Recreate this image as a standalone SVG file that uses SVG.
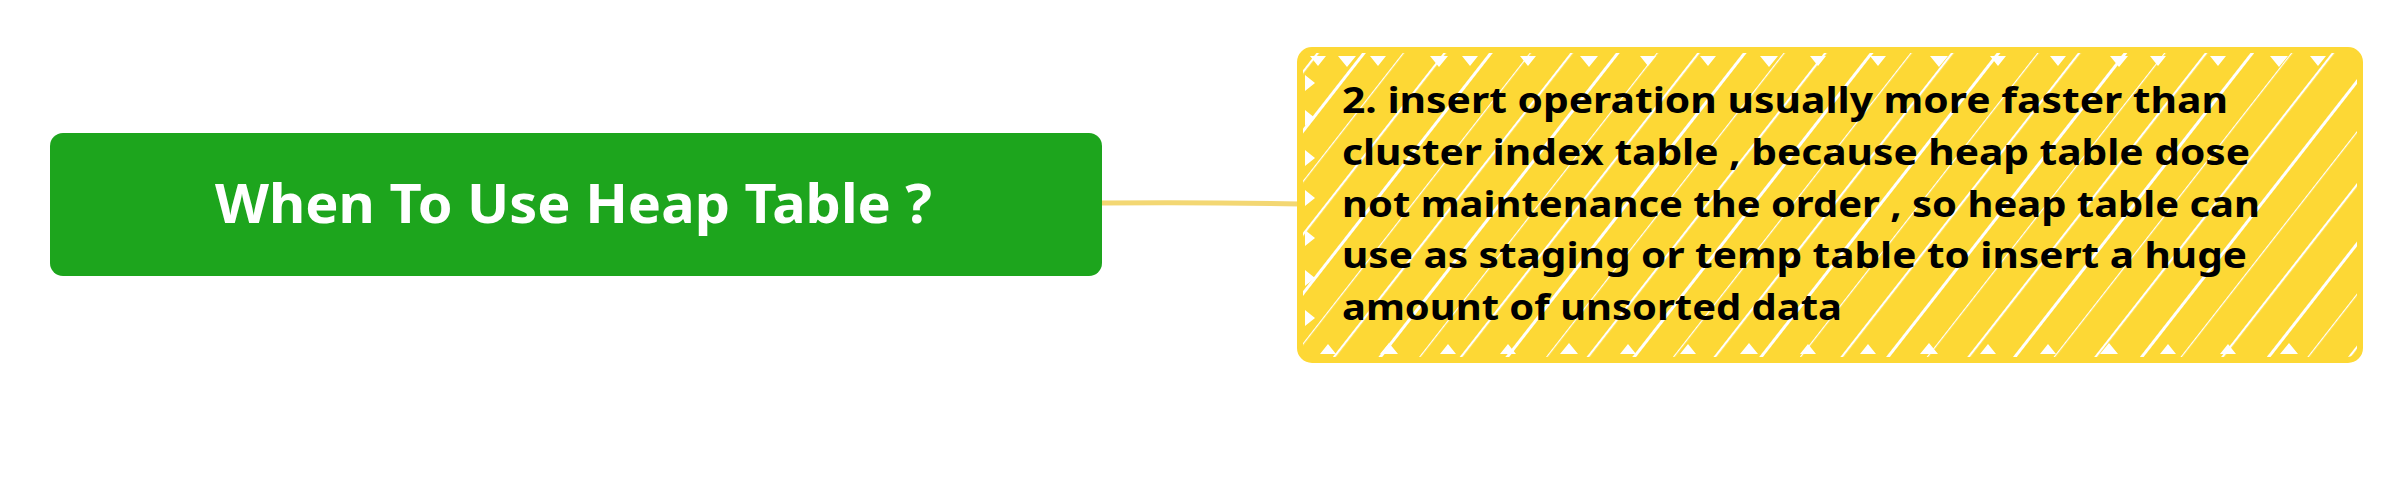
<svg xmlns="http://www.w3.org/2000/svg" width="2402" height="478" viewBox="0 0 2402 478">
  <style>
    .title { font-family: "Noto Sans", "Liberation Sans", sans-serif; font-weight: bold; font-size: 54px; fill: #ffffff; }
    .body { font-family: "Noto Sans", "Liberation Sans", sans-serif; font-weight: bold; font-size: 35px; fill: #000000; }
    .conn { fill: none; stroke: #f3d773; stroke-width: 5; stroke-linecap: round; }
    .notch { fill: #ffffff; }
  </style>
  <defs>
    <pattern id="hatch" patternUnits="userSpaceOnUse" width="100" height="100" patternTransform="rotate(38)">
      <rect x="0" y="0" width="100" height="100" fill="#fdd835"/>
      <rect x="6" y="0" width="3" height="100" fill="#ffffff"/>
      <rect x="38" y="0" width="1.2" height="100" fill="#ffffff"/>
      <rect x="70" y="0" width="2.2" height="100" fill="#ffffff"/>
    </pattern>
    <clipPath id="ybox">
      <rect x="1300" y="50" width="1060" height="310" rx="12"/>
    </clipPath>
  </defs>

  <g id="connectors">
    <path class="conn" d="M1102,203 Q1200,202 1300,204"/>
  </g>

  <g id="node-root">
    <rect x="50" y="133" width="1052" height="143" rx="13" fill="#1da51d"/>
    <text class="title" x="215" y="223" textLength="717" lengthAdjust="spacingAndGlyphs">When To Use Heap Table ?</text>
  </g>

  <g id="node-note">
    <g clip-path="url(#ybox)">
      <rect x="1300" y="50" width="1060" height="310" fill="url(#hatch)"/>
      <path class="notch" d="M1310,56 l8,10 l8,-10 z M1338,56 l9,11 l9,-11 z M1370,56 l8,10 l8,-10 z M1430,56 l9,11 l9,-11 z M1462,56 l8,10 l8,-10 z M1520,56 l8,10 l8,-10 z M1580,56 l9,11 l9,-11 z M1640,56 l8,10 l8,-10 z M1700,56 l8,10 l8,-10 z M1760,56 l9,11 l9,-11 z M1810,56 l8,10 l8,-10 z M1870,56 l8,10 l8,-10 z M1930,56 l9,11 l9,-11 z M1990,56 l8,10 l8,-10 z M2050,56 l8,10 l8,-10 z M2110,56 l9,11 l9,-11 z M2150,56 l8,10 l8,-10 z M2210,56 l8,10 l8,-10 z M2270,56 l9,11 l9,-11 z M2310,56 l8,10 l8,-10 z"/>
      <path class="notch" d="M1320,354 l8,-10 l8,10 z M1380,354 l9,-11 l9,11 z M1440,354 l8,-10 l8,10 z M1500,354 l8,-10 l8,10 z M1560,354 l9,-11 l9,11 z M1620,354 l8,-10 l8,10 z M1680,354 l8,-10 l8,10 z M1740,354 l9,-11 l9,11 z M1800,354 l8,-10 l8,10 z M1860,354 l8,-10 l8,10 z M1920,354 l9,-11 l9,11 z M1980,354 l8,-10 l8,10 z M2040,354 l8,-10 l8,10 z M2100,354 l9,-11 l9,11 z M2160,354 l8,-10 l8,10 z M2220,354 l8,-10 l8,10 z M2280,354 l9,-11 l9,11 z"/>
      <path class="notch" d="M1305,75 l10,8 l-10,8 z M1305,110 l10,8 l-10,8 z M1305,150 l10,8 l-10,8 z M1305,190 l10,8 l-10,8 z M1305,230 l10,8 l-10,8 z M1305,270 l10,8 l-10,8 z M1305,310 l10,8 l-10,8 z"/>
    </g>
    <rect x="1300" y="50" width="1060" height="310" rx="12" fill="none" stroke="#fdd835" stroke-width="6"/>
    <text class="body" x="1342" y="113" textLength="886" lengthAdjust="spacingAndGlyphs">2. insert operation usually more faster than</text>
    <text class="body" x="1342" y="165" textLength="908" lengthAdjust="spacingAndGlyphs">cluster index table , because heap table dose</text>
    <text class="body" x="1342" y="217" textLength="918" lengthAdjust="spacingAndGlyphs">not maintenance the order , so heap table can</text>
    <text class="body" x="1342" y="268" textLength="905" lengthAdjust="spacingAndGlyphs">use as staging or temp table to insert a huge</text>
    <text class="body" x="1342" y="320" textLength="500" lengthAdjust="spacingAndGlyphs">amount of unsorted data</text>
  </g>
</svg>
